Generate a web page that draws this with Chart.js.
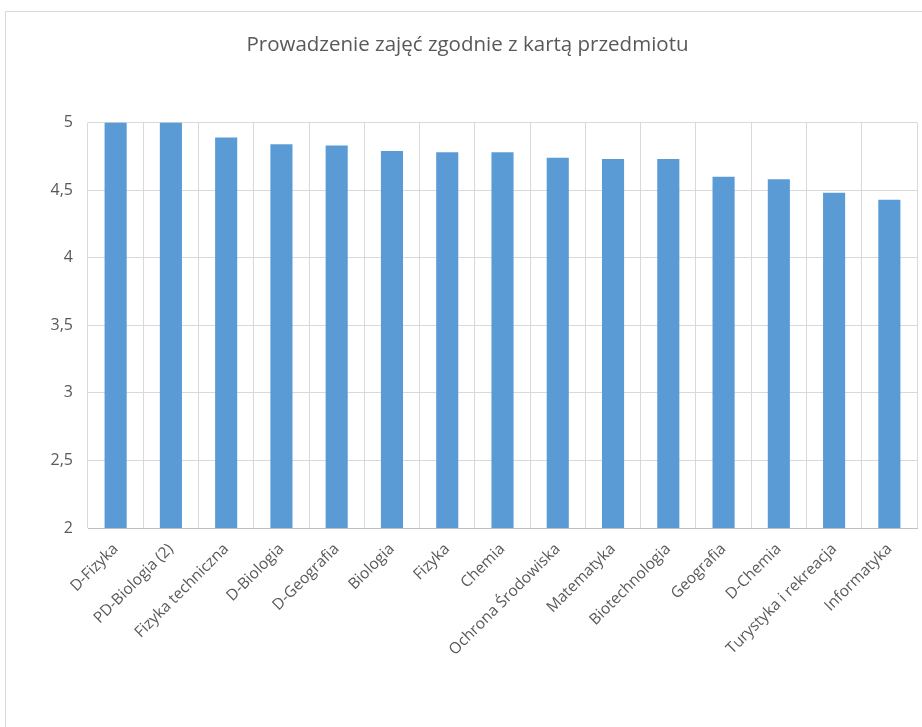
<!DOCTYPE html>
<html>
    <head>
        <meta charset="utf-8">
        <title>Prowadzenie zajęć</title>
        <script src="https://cdn.jsdelivr.net/npm/chart.js@4.4.0/dist/chart.umd.min.js"></script>
        <style>
            body { margin: 0; background: #fff; overflow: hidden; }
            #ramka { position: absolute; left: 5px; top: 11px; width: 1000px; height: 800px; border: 1px solid #d9d9d9; }
            #wykres { position: absolute; left: 0; top: 0; width: 922px; height: 727px; }
        </style>
    </head>
    <body>
        <div id="ramka"></div>
        <div id="wykres"><canvas id="barChart" width="922" height="727"></canvas></div>
    </body>
    <script>
        var kierunki = ["D-Fizyka", "PD-Biologia (2)", "Fizyka techniczna", "D-Biologia", "D-Geografia",
            "Biologia", "Fizyka", "Chemia", "Ochrona Środowiska", "Matematyka", "Biotechnologia",
            "Geografia", "D-Chemia", "Turystyka i rekreacja", "Informatyka"];
        var oceny = [5, 5, 4.89, 4.84, 4.83, 4.79, 4.78, 4.78, 4.74, 4.73, 4.73, 4.60, 4.58, 4.48, 4.43];
        var osY = { min: 2, max: 5, krok: 0.5 };
        var tytul = "Prowadzenie zajęć zgodnie z kartą przedmiotu";

        var ctx = document.getElementById("barChart").getContext('2d');
        var myBarChart = new Chart(ctx, {
            type: 'bar',
            data: {
                labels: kierunki,
                datasets: [{
                    data: oceny,
                    backgroundColor: '#5b9bd5',
                    borderWidth: 0,
                    categoryPercentage: 1,
                    barPercentage: 0.4
                }]
            },
            options: {
                responsive: false,
                animation: false,
                layout: { padding: { left: 18, right: 5, top: 33, bottom: 0 } },
                plugins: {
                    legend: { display: false },
                    tooltip: { enabled: false },
                    title: {
                        display: true,
                        text: tytul,
                        color: '#595959',
                        font: { family: 'Open Sans', size: 20.5, weight: 'normal' },
                        padding: { top: 0, bottom: 65 }
                    }
                },
                scales: {
                    x: {
                        grid: { color: '#d9d9d9', offset: true, drawTicks: false },
                        border: { color: '#bfbfbf' },
                        ticks: {
                            color: '#595959',
                            font: { family: 'Open Sans', size: 15.5 },
                            minRotation: 45,
                            maxRotation: 45,
                            padding: 12
                        },
                        afterFit: function (s) { s.height = 199; }
                    },
                    y: {
                        min: osY.min,
                        max: osY.max,
                        grid: { color: '#d9d9d9', drawTicks: false },
                        border: { display: false },
                        ticks: {
                            stepSize: osY.krok,
                            color: '#595959',
                            font: { family: 'Open Sans', size: 16 },
                            padding: 15,
                            callback: function (v) { return String(v).replace('.', ','); }
                        },
                        afterFit: function (s) { s.width = 70; }
                    }
                }
            }
        });
    </script>
</html>
